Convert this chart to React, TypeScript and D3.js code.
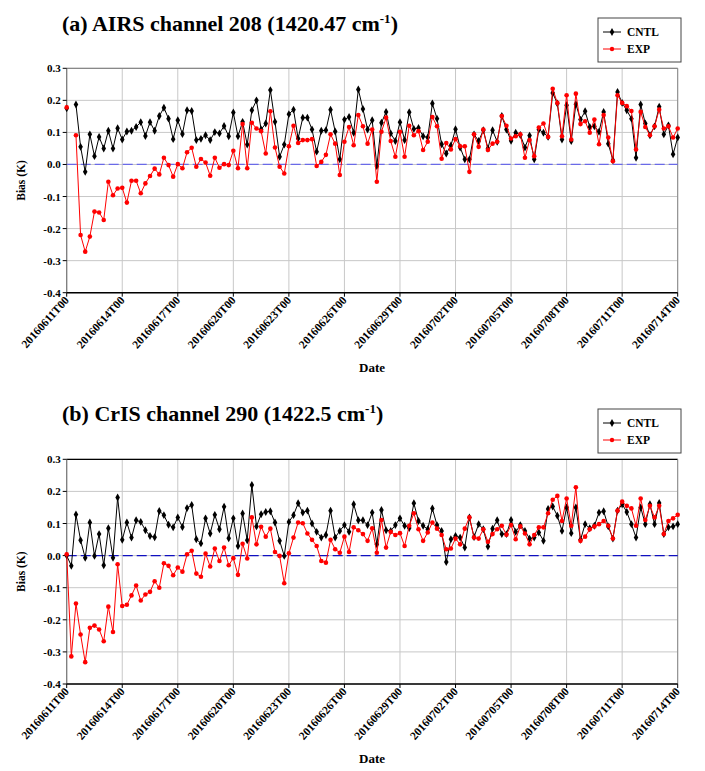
import React from "react";
import * as d3 from "d3";

const xTickLabels = ["20160611T00","20160614T00","20160617T00","20160620T00","20160623T00","20160626T00","20160629T00","20160702T00","20160705T00","20160708T00","20160711T00","20160714T00"];
const yTicks = [0.3, 0.2, 0.1, 0.0, -0.1, -0.2, -0.3, -0.4];
const seriesNames = ["CNTL", "EXP"];

const cntlA: (number | null)[] = [0.175,null,0.187,0.055,-0.023,0.094,0.026,0.086,0.05,0.105,0.05,0.113,0.078,0.103,0.105,0.117,0.132,0.089,0.132,0.105,0.151,0.177,0.143,0.079,0.138,0.095,0.169,0.167,0.076,0.08,0.091,0.076,0.101,0.097,0.12,0.088,0.162,0.088,0.133,0.062,0.169,0.2,0.109,0.128,0.232,0.133,0.024,0.062,0.157,0.171,0.081,0.146,0.146,0.109,0.04,0.105,0.107,0.171,0.103,0.016,0.14,0.148,0.099,0.234,0.173,0.109,0.138,-0.005,0.13,0.164,0.097,0.073,0.132,0.076,0.163,0.111,0.114,0.088,0.084,0.19,0.143,0.063,0.034,0.059,0.11,0.053,0.016,0.016,0.094,0.073,0.107,0.05,0.107,0.071,0.151,0.109,0.074,0.099,0.092,0.053,0.09,0.016,0.109,0.099,0.086,0.223,0.19,0.078,0.185,0.073,0.188,0.14,0.166,0.117,0.119,0.102,0.164,0.065,0.013,0.226,0.192,0.169,0.143,0.021,0.187,0.128,0.091,0.119,0.18,0.094,0.122,0.032,0.084];
const expA: (number | null)[] = [0.178,null,0.091,-0.22,-0.272,-0.225,-0.147,-0.15,-0.173,-0.054,-0.096,-0.075,-0.073,-0.119,-0.051,-0.051,-0.09,-0.059,-0.036,-0.013,-0.031,0.021,-0.002,-0.038,0.001,-0.012,0.038,0.052,-0.007,0.017,0.006,-0.035,0.021,-0.01,0.001,-0.002,0.043,-0.012,0.126,-0.012,0.13,0.112,0.104,0.034,0.166,0.053,-0.007,-0.028,0.057,0.121,0.067,0.076,0.076,0.079,-0.005,0.008,0.03,0.094,0.065,-0.033,0.071,0.117,0.06,0.154,0.119,0.065,0.109,-0.054,0.102,0.146,0.073,0.024,0.102,0.024,0.121,0.091,0.104,0.045,0.071,0.148,0.119,0.018,0.067,0.047,0.079,0.057,0.057,-0.023,0.094,0.055,0.109,0.045,0.065,0.071,0.151,0.121,0.081,0.088,0.094,0.021,0.076,0.026,0.115,0.128,0.086,0.236,0.192,0.088,0.216,0.078,0.221,0.126,0.135,0.099,0.14,0.063,0.154,0.084,0.01,0.216,0.192,0.182,0.167,0.047,0.164,0.117,0.091,0.119,0.171,0.112,0.119,0.084,0.112];
const cntlB: (number | null)[] = [0.0,-0.032,0.128,0.048,-0.007,0.103,-0.001,0.067,-0.03,0.085,-0.007,0.181,0.049,0.103,0.056,0.11,0.105,0.079,0.061,0.057,0.139,0.126,0.096,0.088,0.119,0.089,0.148,0.158,0.051,0.038,0.116,0.069,0.127,0.082,0.152,0.054,0.116,0.03,0.131,0.048,0.22,0.091,0.129,0.136,0.138,0.103,0.046,-0.001,0.105,0.126,0.163,0.134,0.14,0.1,0.074,0.056,0.064,0.14,0.056,0.077,0.095,0.074,0.16,0.11,0.11,0.095,0.134,0.035,0.142,0.079,0.077,0.095,0.116,0.093,0.086,0.163,0.108,0.093,0.082,0.147,0.095,0.077,-0.02,0.051,0.061,0.056,0.025,0.119,0.058,0.098,0.082,0.028,0.084,0.11,0.067,0.067,0.111,0.074,0.095,0.077,0.053,0.056,0.072,0.046,0.145,0.153,0.124,0.077,0.15,0.07,0.15,0.049,0.098,0.085,0.093,0.134,0.138,0.091,0.053,0.14,0.16,0.136,0.098,0.056,0.15,0.098,0.16,0.098,0.164,0.067,0.088,0.091,0.098];
const expB: (number | null)[] = [0.004,-0.314,-0.149,-0.246,-0.332,-0.225,-0.218,-0.23,-0.267,-0.159,-0.238,-0.027,-0.157,-0.153,-0.124,-0.093,-0.14,-0.121,-0.113,-0.08,-0.1,-0.024,-0.032,-0.061,-0.037,-0.05,0.004,0.015,-0.056,-0.066,0.006,-0.034,0.022,-0.017,0.025,-0.03,-0.008,-0.06,0.037,-0.009,0.119,0.035,0.09,0.059,0.084,0.011,-0.001,-0.086,0.007,0.056,0.103,0.101,0.069,0.049,0.03,-0.017,-0.022,0.049,0.02,0.009,0.059,0.011,0.088,0.079,0.067,0.046,0.085,0.009,0.111,0.025,0.074,0.064,0.07,0.03,0.093,0.132,0.082,0.046,0.072,0.103,0.084,0.064,0.02,0.022,0.053,0.035,0.084,0.119,0.056,0.053,0.082,0.043,0.067,0.082,0.093,0.065,0.095,0.051,0.091,0.069,0.035,0.064,0.088,0.088,0.132,0.174,0.186,0.108,0.178,0.093,0.213,0.046,0.059,0.082,0.091,0.098,0.108,0.093,0.053,0.14,0.168,0.155,0.147,0.093,0.178,0.111,0.155,0.119,0.155,0.067,0.108,0.116,0.127];

const FONT = "Liberation Serif, DejaVu Serif, serif";
const tf = (size: number) => ({ fontFamily: FONT, fontWeight: 700, fontSize: size + "px" });
const LEFT = 66.7;
const RIGHT = 677.7;

type PanelProps = {
  label: React.ReactNode;
  cntl: (number | null)[];
  exp: (number | null)[];
  top: number;
  bottom: number;
  titleY: number;
  legendY: number;
  zeroColor: string;
  frameColor: string;
};

function Panel({ label, cntl, exp, top, bottom, titleY, legendY, zeroColor, frameColor }: PanelProps) {
  const n = cntl.length;
  const x = d3.scaleLinear().domain([0, n - 1]).range([LEFT, RIGHT]);
  const y = d3.scaleLinear().domain([-0.4, 0.3]).range([bottom, top]);
  const line = d3
    .line<number | null>()
    .defined((d) => d != null)
    .x((_, i) => x(i))
    .y((d) => y(d as number));
  const tickIdx = xTickLabels.map((_, i) => i * 12);
  const diamond = d3.symbol().type(d3.symbolDiamond).size(18)() as string;

  return (
    <g>
      <text x={62} y={titleY} style={tf(22)} fill="#000">
        {label}
      </text>
      {yTicks.map((t) => (
        <line key={"gy" + t} x1={LEFT} x2={RIGHT} y1={y(t)} y2={y(t)} stroke="#c8c8c8" strokeWidth={1} />
      ))}
      {tickIdx.map((t) => (
        <line key={"gx" + t} x1={x(t)} x2={x(t)} y1={top} y2={bottom} stroke="#c8c8c8" strokeWidth={1} />
      ))}
      <line x1={LEFT} x2={RIGHT} y1={top} y2={top} stroke={frameColor} strokeWidth={1.2} />
      <line x1={RIGHT} x2={RIGHT} y1={top} y2={bottom} stroke="#888" strokeWidth={1} />
      <line x1={LEFT} x2={LEFT} y1={top} y2={bottom} stroke="#777" strokeWidth={1.2} />
      <line x1={LEFT} x2={RIGHT} y1={bottom} y2={bottom} stroke="#000" strokeWidth={1.5} />
      <line x1={LEFT} x2={RIGHT} y1={y(0)} y2={y(0)} stroke={zeroColor} strokeWidth={1.2} strokeDasharray="10,4" />
      {yTicks.map((t) => (
        <g key={"yt" + t}>
          <line x1={LEFT - 4} x2={LEFT} y1={y(t)} y2={y(t)} stroke="#000" />
          <text x={LEFT - 6} y={y(t) + 4} textAnchor="end" style={tf(11)}>
            {t.toFixed(1)}
          </text>
        </g>
      ))}
      {tickIdx.map((t, i) => (
        <g key={"xt" + t}>
          <line x1={x(t)} x2={x(t)} y1={bottom} y2={bottom + 4} stroke="#000" />
          <text
            transform={`translate(${x(t) + 3},${bottom + 8}) rotate(-48)`}
            textAnchor="end"
            style={tf(11.5)}
          >
            {xTickLabels[i]}
          </text>
        </g>
      ))}
      <text x={372} y={bottom + 79} textAnchor="middle" style={tf(13)}>
        Date
      </text>
      <text
        transform={`translate(25,${(top + bottom) / 2}) rotate(-90)`}
        textAnchor="middle"
        style={tf(11.5)}
      >
        Bias (K)
      </text>
      <path d={line(cntl) || ""} fill="none" stroke="#000" strokeWidth={1} />
      {cntl.map((d, i) =>
        d == null ? null : <path key={"c" + i} d={diamond} transform={`translate(${x(i)},${y(d)})`} fill="#000" />
      )}
      <path d={line(exp) || ""} fill="none" stroke="#ff0000" strokeWidth={1} />
      {exp.map((d, i) =>
        d == null ? null : <circle key={"e" + i} cx={x(i)} cy={y(d)} r={2.3} fill="#ff0000" />
      )}
      <rect x={598} y={legendY} width={83} height={44} fill="#fff" stroke="#444" strokeWidth={1} />
      {seriesNames.map((s, i) => {
        const ly = legendY + 14 + i * 17;
        const col = i === 0 ? "#000" : "#ff0000";
        return (
          <g key={s}>
            <line x1={603} x2={621} y1={ly} y2={ly} stroke={col} strokeWidth={1} />
            {i === 0 ? (
              <path d={diamond} transform={`translate(612,${ly})`} fill={col} />
            ) : (
              <circle cx={612} cy={ly} r={2.2} fill={col} />
            )}
            <text x={627} y={ly + 4} style={tf(11.5)}>
              {s}
            </text>
          </g>
        );
      })}
    </g>
  );
}

function Title({ main, sup, close }: { main: string; sup: string; close: string }) {
  return (
    <>
      {main}
      <tspan dy={-8} style={{ fontSize: "13px" }}>{sup}</tspan>
      <tspan dy={8}>{close}</tspan>
    </>
  );
}

export default function App() {
  return (
    <svg
      width={705}
      height={771}
      style={{ position: "absolute", left: 0, top: 0, background: "#fff" }}
    >
      <rect width={705} height={771} fill="#fff" />
      <Panel
        label={<Title main="(a) AIRS channel 208 (1420.47 cm" sup="-1" close=")" />}
        cntl={cntlA}
        exp={expA}
        top={68.3}
        bottom={292.7}
        titleY={31}
        legendY={18}
        zeroColor="#6a6ae8"
        frameColor="#888"
      />
      <Panel
        label={<Title main="(b) CrIS channel 290 (1422.5 cm" sup="-1" close=")" />}
        cntl={cntlB}
        exp={expB}
        top={459.3}
        bottom={684}
        titleY={421}
        legendY={409}
        zeroColor="#1010c0"
        frameColor="#000"
      />
    </svg>
  );
}
